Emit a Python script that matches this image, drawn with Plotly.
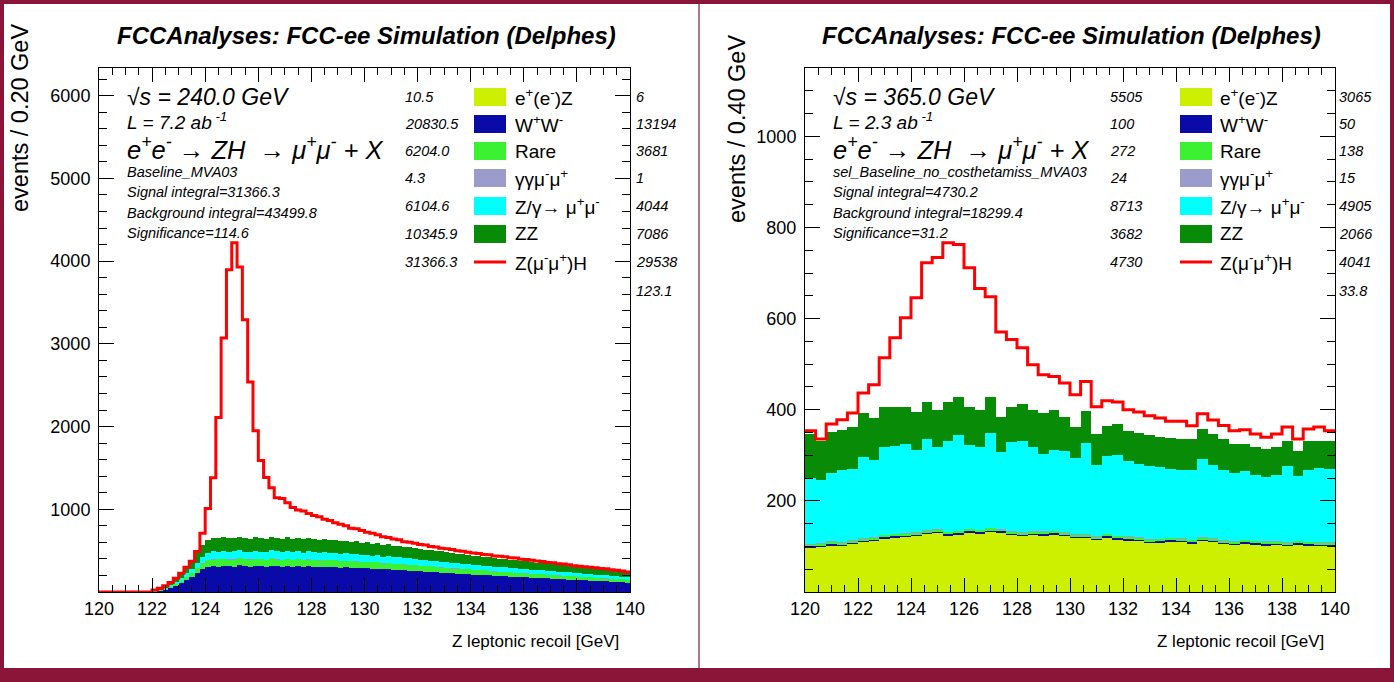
import plotly.graph_objects as go

W, H = 1394, 682

# ---------------- binning ----------------
BIN_LO, BIN_HI = 120.0, 140.0
NB_240 = 100   # 0.20 GeV bins
NB_365 = 50    # 0.40 GeV bins

X_TICKS = [120, 122, 124, 126, 128, 130, 132, 134, 136, 138, 140]
Y_TICKS_240 = [1000, 2000, 3000, 4000, 5000, 6000]
Y_TICKS_365 = [200, 400, 600, 800, 1000]

# ---------------- sqrt(s)=240 GeV ----------------
L_eeZ = [0]*10 + [0.05, 0.08, 0.1, 0.12, 0.12, 0.13, 0.12, 0.14, 0.13, 0.12,
                  0.13, 0.14, 0.12, 0.13, 0.14, 0.13, 0.12, 0.14, 0.13, 0.12,
                  0.13, 0.12, 0.14, 0.12, 0.13, 0.12, 0.12, 0.13, 0.12, 0.12,
                  0.12, 0.13, 0.12, 0.12, 0.13, 0.12, 0.11, 0.12, 0.12, 0.11,
                  0.12, 0.11, 0.12, 0.11, 0.11, 0.12, 0.11, 0.11, 0.11, 0.10,
                  0.11, 0.10, 0.11, 0.10, 0.10, 0.10, 0.10, 0.10, 0.09, 0.10,
                  0.09, 0.10, 0.09, 0.09, 0.09, 0.09, 0.09, 0.08, 0.09, 0.08,
                  0.08, 0.08, 0.08, 0.08, 0.08, 0.07, 0.08, 0.07, 0.07, 0.07,
                  0.07, 0.07, 0.07, 0.06, 0.07, 0.06, 0.06, 0.06, 0.06, 0.06]
L_WW = [0, 0, 0, 0, 0, 0, 0, 0, 0, 0,
        10, 20, 35, 55, 80, 108, 145, 178, 228, 275,
        302, 312, 305, 318, 310, 308, 322, 312, 306, 315,
        312, 305, 318, 312, 308, 316, 306, 311, 304, 312,
        306, 300, 308, 298, 302, 295, 297, 290, 292, 286,
        287, 280, 282, 273, 275, 267, 268, 261, 258, 253,
        249, 245, 242, 237, 235, 229, 226, 223, 218, 216,
        211, 209, 204, 201, 197, 193, 191, 187, 183, 181,
        178, 174, 171, 167, 164, 161, 157, 155, 151, 148,
        145, 142, 139, 135, 132, 129, 126, 122, 119, 114]
L_Rare = [0, 0, 0, 0, 0, 0, 0, 0, 0, 0,
          3, 5, 9, 14, 21, 29, 39, 48, 62, 75,
          84, 86, 88, 85, 87, 90, 86, 84, 88, 87,
          85, 86, 88, 86, 84, 87, 85, 86, 84, 86,
          85, 83, 84, 83, 84, 82, 82, 80, 81, 79,
          79, 77, 78, 75, 76, 74, 74, 72, 72, 70,
          69, 68, 67, 66, 65, 64, 63, 62, 61, 60,
          59, 58, 57, 56, 55, 54, 53, 52, 51, 50,
          49, 48, 48, 47, 46, 45, 44, 43, 42, 41,
          41, 40, 39, 38, 37, 36, 35, 34, 33, 32]
L_gg = [0]*10 + [0.0, 0.01, 0.02, 0.03, 0.04, 0.05, 0.05, 0.06, 0.06, 0.06,
                 0.06, 0.06, 0.06, 0.06, 0.06, 0.06, 0.06, 0.06, 0.06, 0.06,
                 0.06, 0.06, 0.06, 0.05, 0.05, 0.05, 0.05, 0.05, 0.05, 0.05,
                 0.05, 0.05, 0.05, 0.05, 0.05, 0.05, 0.05, 0.05, 0.05, 0.05,
                 0.05, 0.05, 0.05, 0.05, 0.05, 0.05, 0.05, 0.05, 0.05, 0.05,
                 0.05, 0.05, 0.05, 0.05, 0.05, 0.05, 0.05, 0.04, 0.04, 0.04,
                 0.04, 0.04, 0.04, 0.04, 0.04, 0.04, 0.04, 0.04, 0.04, 0.04,
                 0.04, 0.04, 0.04, 0.04, 0.04, 0.04, 0.04, 0.04, 0.04, 0.04,
                 0.04, 0.04, 0.04, 0.04, 0.04, 0.04, 0.04, 0.04, 0.04, 0.04]
L_Zg = [0, 0, 0, 0, 0, 0, 0, 0, 0, 0,
        3, 5, 9, 15, 21, 30, 40, 50, 64, 78,
        88, 92, 90, 95, 88, 96, 94, 90, 93, 97,
        91, 89, 96, 92, 90, 94, 89, 93, 88, 94,
        90, 88, 93, 87, 90, 86, 88, 84, 87, 83,
        85, 81, 84, 79, 82, 77, 79, 75, 75, 72,
        71, 70, 69, 67, 67, 64, 64, 63, 61, 61,
        59, 59, 57, 57, 55, 54, 54, 53, 52, 51,
        50, 49, 48, 47, 46, 45, 44, 43, 43, 42,
        41, 40, 39, 38, 37, 36, 35, 35, 34, 32]
L_ZZ = [0, 0, 0, 0, 0, 0, 0, 0, 0, 0,
        4, 10, 17, 26, 38, 53, 71, 89, 116, 142,
        156, 162, 165, 164, 165, 161, 168, 162, 158, 163,
        164, 160, 166, 165, 163, 163, 162, 162, 160, 163,
        159, 157, 160, 157, 156, 155, 155, 151, 152, 150,
        149, 147, 146, 143, 142, 140, 139, 137, 135, 133,
        131, 129, 127, 125, 123, 121, 119, 117, 115, 113,
        111, 109, 107, 106, 103, 101, 100, 98, 96, 94,
        93, 91, 89, 87, 86, 84, 83, 81, 79, 77,
        75, 73, 73, 71, 70, 67, 66, 64, 62, 60]
L_ZH = [0, 0, 0, 0, 0, 0, 0, 0, 0, 0,
        5, 5, 5, 5, 5, 5, 5, 7, 20, 140,
        380, 728, 1462, 2408, 3245, 3568, 3260, 2642, 1895, 1288,
        938, 745, 592, 485, 485, 420, 378, 338, 344, 295,
        285, 282, 235, 240, 206, 200, 178, 167, 153, 144,
        122, 125, 102, 98, 85, 82, 70, 63, 62, 60,
        55, 56, 45, 50, 40, 44, 42, 33, 37, 30,
        30, 31, 27, 30, 26, 30, 27, 24, 28, 20,
        22, 22, 18, 22, 14, 17, 14, 16, 13, 10,
        10, 11, 8, 12, 9, 12, 8, 7, 6, 4]

# ---------------- sqrt(s)=365 GeV ----------------
R_eeZ = [98, 100, 103, 101, 106, 110, 113, 118, 120, 121,
         124, 128, 130, 125, 127, 131, 129, 133, 131, 126,
         124, 126, 125, 127, 124, 120, 119, 115, 120, 116,
         114, 113, 108, 109, 111, 110, 107, 112, 110, 106,
         104, 107, 105, 103, 104, 102, 105, 103, 101, 101]
R_WW = [2.1, 1.9, 2.0, 2.2, 1.8, 2.0, 2.1, 1.9, 2.0, 2.2,
        2.0, 1.9, 2.1, 2.0, 1.8, 2.0, 2.2, 2.0, 1.9, 2.1,
        2.0, 1.9, 2.0, 2.1, 2.0, 1.8, 2.0, 2.1, 1.9, 2.0,
        2.0, 2.2, 1.9, 2.0, 2.1, 1.9, 2.0, 2.0, 1.8, 2.1,
        2.0, 1.9, 2.1, 2.0, 2.0, 1.9, 2.1, 2.0, 2.0, 1.9]
R_Rare = [5.2, 5.5, 5.4, 5.6, 5.3, 5.5, 5.4, 5.6, 5.5, 5.3,
          5.6, 5.4, 5.5, 5.3, 5.6, 5.4, 5.5, 5.6, 5.3, 5.4,
          5.5, 5.4, 5.6, 5.3, 5.5, 5.4, 5.5, 5.3, 5.6, 5.4,
          5.5, 5.3, 5.4, 5.6, 5.5, 5.4, 5.3, 5.5, 5.4, 5.6,
          5.4, 5.5, 5.3, 5.4, 5.5, 5.6, 5.4, 5.3, 5.5, 5.4]
R_gg = [0.5, 0.4, 0.5, 0.5, 0.6, 0.5, 0.4, 0.5, 0.5, 0.5,
        0.5, 0.5, 0.4, 0.5, 0.5, 0.6, 0.5, 0.5, 0.4, 0.5,
        0.5, 0.5, 0.5, 0.4, 0.5, 0.5, 0.5, 0.5, 0.5, 0.4,
        0.5, 0.5, 0.5, 0.5, 0.4, 0.5, 0.5, 0.5, 0.5, 0.5,
        0.4, 0.5, 0.5, 0.5, 0.5, 0.5, 0.4, 0.5, 0.5, 0.5]
R_Zg = [144, 139, 151, 159, 156, 178, 169, 192, 192, 196,
        180, 200, 180, 199, 210, 183, 181, 209, 169, 196,
        200, 184, 169, 177, 178, 167, 201, 155, 170, 176,
        165, 159, 160, 158, 151, 150, 153, 172, 160, 154,
        150, 150, 145, 141, 144, 166, 141, 157, 163, 161]
R_ZZ = [98, 85, 90, 87, 92, 97, 92, 88, 87, 81,
        83, 81, 82, 85, 83, 84, 82, 78, 77, 76,
        81, 82, 91, 88, 75, 67, 70, 69, 67, 68,
        67, 70, 69, 65, 67, 68, 68, 66, 69, 68,
        63, 60, 60, 62, 62, 56, 56, 64, 60, 62]
R_ZH = [6, 4, 17, 23, 31, 44, 73, 108, 151, 196,
        251, 306, 334, 350, 335, 306, 266, 220, 186, 148,
        123, 99, 84, 73, 74, 71, 64, 60, 55, 49,
        46, 45, 42, 42, 38, 39, 29, 33, 31, 29,
        29, 31, 29, 26, 29, 30, 26, 26, 30, 22]

# ---------------- legend / info text ----------------
LEG_LABELS = ["e<sup>+</sup>(e<sup>-</sup>)Z", "W<sup>+</sup>W<sup>-</sup>", "Rare",
              "γγμ<sup>-</sup>μ<sup>+</sup>", "Z/γ→ μ<sup>+</sup>μ<sup>-</sup>", "ZZ",
              "Z(μ<sup>-</sup>μ<sup>+</sup>)H"]
COLORS = ["#ccf000", "#0a0aa8", "#3cf032", "#9b9bcc", "#00ffff", "#088c08"]
SIG_COLOR = "#ff0000"

L_LEG_NUM = ["10.5", "20830.5", "6204.0", "4.3", "6104.6", "10345.9", "31366.3"]
L_RIGHT_NUM = ["6", "13194", "3681", "1", "4044", "7086", "29538", "123.1"]
R_LEG_NUM = ["5505", "100", "272", "24", "8713", "3682", "4730"]
R_RIGHT_NUM = ["3065", "50", "138", "15", "4905", "2066", "4041", "33.8"]

L_INFO = ["√s = 240.0 GeV", "L = 7.2 ab<sup> -1</sup>",
          "e<sup>+</sup>e<sup>-</sup> → ZH  → μ<sup>+</sup>μ<sup>-</sup> + X",
          "Baseline_MVA03", "Signal integral=31366.3",
          "Background integral=43499.8", "Significance=114.6"]
R_INFO = ["√s = 365.0 GeV", "L = 2.3 ab<sup> -1</sup>",
          "e<sup>+</sup>e<sup>-</sup> → ZH  → μ<sup>+</sup>μ<sup>-</sup> + X",
          "sel_Baseline_no_costhetamiss_MVA03", "Signal integral=4730.2",
          "Background integral=18299.4", "Significance=31.2"]

TITLE = "FCCAnalyses: FCC-ee Simulation (Delphes)"
XTITLE = "Z leptonic recoil [GeV]"

MAROON = "#8a1538"
FONT = "Liberation Sans, Arial, sans-serif"


def px(x):
    return x / W


def py(y):
    return 1 - y / H


fig = go.Figure()


def add_panel(nb, layers, sig, xa, ya):
    bw = (BIN_HI - BIN_LO) / nb
    centers = [BIN_LO + (i + 0.5) * bw for i in range(nb)]
    edges = [BIN_LO + i * bw for i in range(nb + 1)]
    for vals, col in zip(layers, COLORS):
        fig.add_trace(go.Bar(x=centers, y=vals, width=bw, xaxis=xa, yaxis=ya,
                             marker=dict(color=col, line=dict(width=0)),
                             showlegend=False, hoverinfo="skip"))
    tot = [sum(v[i] for v in layers) + sig[i] for i in range(nb)]
    fig.add_trace(go.Scatter(x=edges, y=tot + [tot[-1]], xaxis=xa, yaxis=ya,
                             mode="lines", line=dict(color=SIG_COLOR, width=3, shape="hv"),
                             showlegend=False, hoverinfo="skip"))
    return max(tot)


max_l = add_panel(NB_240, [L_eeZ, L_WW, L_Rare, L_gg, L_Zg, L_ZZ], L_ZH, "x", "y")
max_r = add_panel(NB_365, [R_eeZ, R_WW, R_Rare, R_gg, R_Zg, R_ZZ], R_ZH, "x2", "y2")

# frame positions (pixels)
L_FRAME = (99, 630, 68, 592)
R_FRAME = (805, 1335, 68, 592)


def xaxis_cfg(fr, anchor):
    return dict(domain=[px(fr[0]), px(fr[1])], anchor=anchor, range=[BIN_LO, BIN_HI],
                automargin=False,
                tickmode="array", tickvals=X_TICKS, ticktext=[str(t) for t in X_TICKS],
                ticks="inside", ticklen=14, tickwidth=1, tickcolor="black",
                minor=dict(dtick=0.5, tick0=BIN_LO, ticklen=7, ticks="inside",
                           tickcolor="black", tickwidth=1),
                showline=True, linecolor="black", linewidth=1, mirror="allticks",
                showgrid=False, zeroline=False, ticklabelstandoff=0,
                tickfont=dict(family=FONT, size=18, color="black"))


def yaxis_cfg(fr, anchor, ymax, tv, minor_dt):
    return dict(domain=[py(fr[3]), py(fr[2])], anchor=anchor, range=[0, ymax],
                automargin=False,
                tickmode="array", tickvals=tv, ticktext=[str(t) for t in tv],
                ticks="inside", ticklen=15, tickwidth=1, tickcolor="black",
                minor=dict(dtick=minor_dt, tick0=0, ticklen=8, ticks="inside",
                           tickcolor="black", tickwidth=1),
                showline=True, linecolor="black", linewidth=1, mirror="allticks",
                showgrid=False, zeroline=False, ticklabelstandoff=4,
                tickfont=dict(family=FONT, size=18, color="black"))


fig.update_layout(
    width=W, height=H, margin=dict(l=0, r=0, t=0, b=0, pad=0, autoexpand=False),
    paper_bgcolor=MAROON, plot_bgcolor="white",
    barmode="stack", bargap=0, showlegend=False,
    xaxis=xaxis_cfg(L_FRAME, "y"), yaxis=yaxis_cfg(L_FRAME, "x", 1.5 * max_l, Y_TICKS_240, 200),
    xaxis2=xaxis_cfg(R_FRAME, "y2"), yaxis2=yaxis_cfg(R_FRAME, "x2", 1.5 * max_r, Y_TICKS_365, 50),
)

shapes = [
    dict(type="rect", xref="paper", yref="paper", x0=px(4), x1=px(698), y0=py(668), y1=py(4),
         fillcolor="white", line=dict(width=0), layer="below"),
    dict(type="rect", xref="paper", yref="paper", x0=px(700), x1=px(1390), y0=py(668), y1=py(4),
         fillcolor="white", line=dict(width=0), layer="below"),
    dict(type="line", xref="paper", yref="paper", x0=px(699), x1=px(699), y0=py(668), y1=py(4),
         line=dict(color="#d8d8d8", width=1), layer="below"),
]
annotations = []


def txt(x, y, s, size, family=FONT, anchor="left", angle=0):
    annotations.append(dict(x=px(x), y=py(y), xref="paper", yref="paper", text=s,
                            showarrow=False, xanchor=anchor, yanchor="middle",
                            textangle=angle, font=dict(family=family, size=size, color="black")))


ROWS = [97, 124, 151, 178, 206, 234, 262, 291]
INFO_Y = [97, 121, 148, 172, 192, 213, 233]
INFO_SIZE = [23, 19, 25.5, 14.5, 14.5, 14.5, 14.5]


def panel_text(x_c, fr, info, info_x, leg_num, num_x, box_x, lab_x, right_num, right_x, ytitle, ytx, yty):
    txt(x_c, 36, "<b><i>" + TITLE + "</i></b>", 24, anchor="center")
    txt(ytx, yty, ytitle, 23.5, angle=-90, anchor="center")
    txt(fr[1] - 9, 641, XTITLE, 17, anchor="right")
    for s, yy, sz in zip(info, INFO_Y, INFO_SIZE):
        txt(info_x, yy, "<i>" + s + "</i>", sz)
    for i, s in enumerate(leg_num):
        txt(num_x, ROWS[i], "<i>" + s + "</i>", 14.5)
    for i, s in enumerate(right_num):
        txt(right_x, ROWS[i], "<i>" + s + "</i>", 14.5)
    for i, lab in enumerate(LEG_LABELS):
        txt(lab_x, ROWS[i], lab, 19)
        if i < len(COLORS):
            shapes.append(dict(type="rect", xref="paper", yref="paper",
                               x0=px(box_x), x1=px(box_x + 32), y0=py(ROWS[i] + 9), y1=py(ROWS[i] - 9),
                               fillcolor=COLORS[i], line=dict(width=0), layer="above"))
        else:
            shapes.append(dict(type="line", xref="paper", yref="paper",
                               x0=px(box_x), x1=px(box_x + 32), y0=py(ROWS[i]), y1=py(ROWS[i]),
                               line=dict(color=SIG_COLOR, width=3), layer="above"))


panel_text(366, L_FRAME, L_INFO, 125, L_LEG_NUM, 403, 474, 513, L_RIGHT_NUM, 634,
           "events / 0.20 GeV", 20, 118)
panel_text(1071, R_FRAME, R_INFO, 831, R_LEG_NUM, 1108, 1180, 1218, R_RIGHT_NUM, 1337,
           "events / 0.40 GeV", 737, 129)

fig.update_layout(shapes=shapes, annotations=annotations)
fig.write_html("out.html")
